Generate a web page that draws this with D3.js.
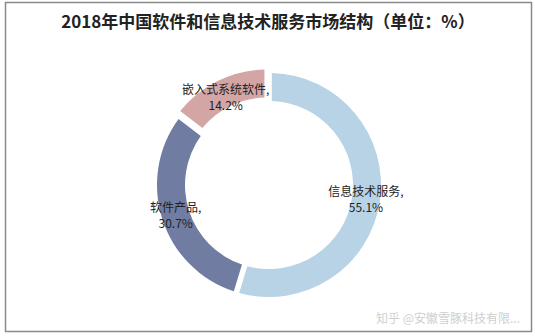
<!DOCTYPE html>
<html>
<head>
<meta charset="utf-8">
<script src="https://cdn.jsdelivr.net/npm/d3@7"></script>
<style>
    body { margin: 0; background: #fff; }
    svg { display: block; }
</style>
</head>
<body>
<svg id="chart"></svg>
<script>
// market structure, 2018 (%)
const names = ['信息技术服务', '软件产品', '嵌入式系统软件'];
const values = [55.1, 30.7, 14.2];
const colors = ['#b7d3e5', '#707ca2', '#d3a5a4'];
const exploded = [0, 0, 4];

const width = 535;
const height = 336;
const cx = 269;
const cy = 185;
const outerR = 112;
const innerR = 84;

const svg = d3.select('#chart')
    .attr('width', width)
    .attr('height', height);

// frame
svg.append('rect')
    .attr('x', 5.5)
    .attr('y', 2.5)
    .attr('width', 526)
    .attr('height', 329)
    .attr('fill', '#fff')
    .attr('stroke', '#8a8a8a')
    .attr('stroke-width', 1.5);

svg.append('text')
    .attr('x', 268)
    .attr('y', 28)
    .attr('text-anchor', 'middle')
    .style('font-family', '"Noto Sans CJK SC", sans-serif')
    .style('font-weight', 'bold')
    .style('font-size', '17px')
    .attr('fill', '#222')
    .text('2018年中国软件和信息技术服务市场结构（单位：%）');

const data = names.map((name, i) => ({ name, value: values[i], color: colors[i], off: exploded[i] }));

const pie = d3.pie()
    .sort(null)
    .value(d => d.value)
    .padAngle(0.04);

const arc = d3.arc()
    .innerRadius(innerR)
    .outerRadius(outerR);

const arcs = pie(data);

const g = svg.append('g')
    .attr('transform', `translate(${cx}, ${cy})`);

// slices, pushed out a little where exploded
g.selectAll('path')
    .data(arcs)
    .enter().append('path')
    .attr('d', arc)
    .attr('fill', d => d.data.color)
    .attr('transform', d => {
        const mid = (d.startAngle + d.endAngle) / 2;
        return `translate(${Math.sin(mid) * d.data.off}, ${-Math.cos(mid) * d.data.off})`;
    });

// labels at the centroid of each ring segment
const labels = g.selectAll('text')
    .data(arcs)
    .enter().append('text')
    .attr('transform', d => `translate(${arc.centroid(d)})`)
    .attr('text-anchor', 'middle')
    .style('font-family', '"Noto Sans CJK SC", sans-serif')
    .style('font-size', '12px')
    .attr('fill', '#222');

labels.append('tspan')
    .attr('x', 0)
    .attr('y', -3)
    .text(d => d.data.name + ',');

labels.append('tspan')
    .attr('x', 0)
    .attr('y', 13)
    .text(d => d.data.value.toFixed(1) + '%');

// watermark
svg.append('text')
    .attr('x', 520)
    .attr('y', 323)
    .attr('text-anchor', 'end')
    .style('font-family', '"Noto Sans CJK SC", sans-serif')
    .style('font-size', '12px')
    .attr('fill', '#cfcfcf')
    .text('知乎 @安徽雪豚科技有限...');
</script>
</body>
</html>
